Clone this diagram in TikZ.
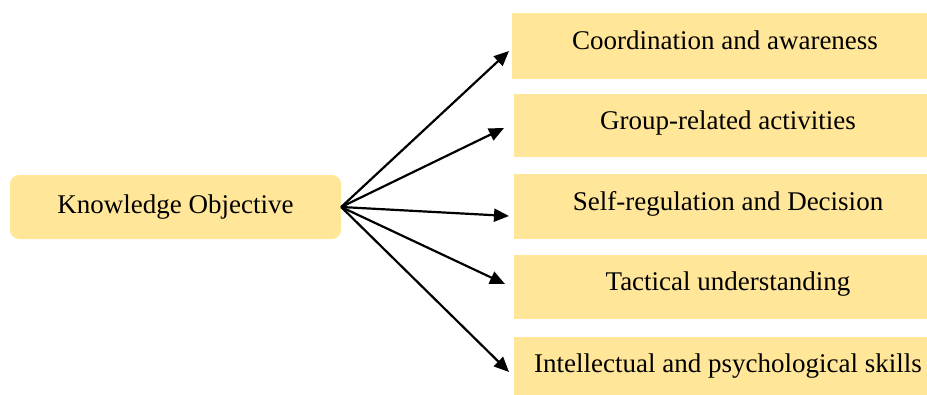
\documentclass[tikz,border=0pt]{standalone}
\usepackage{fontspec}
\setmainfont{Liberation Serif}
\usetikzlibrary{arrows.meta}
\definecolor{boxgold}{HTML}{FFE699}
\begin{document}
\begin{tikzpicture}[x=1bp,y=-1bp,
  goldbox/.style={fill=boxgold,draw=none,inner sep=0pt},
  lbl/.style={anchor=base,inner sep=0pt,font=\fontsize{27bp}{31bp}\selectfont},
  link/.style={line width=2.2bp,-{Triangle[length=15bp,width=13bp]}}]
\useasboundingbox (0,0) rectangle (927,394);
% source box
\node[goldbox,rounded corners=9bp,minimum width=331bp,minimum height=64bp] (ko) at (175.5,207) {};
\node[lbl] (kot) at (175.5,213) {Knowledge Objective};
% target boxes
\node[goldbox,minimum width=430bp,minimum height=66bp,anchor=north west] (c1) at (512,13) {};
\node[goldbox,minimum width=430bp,minimum height=63bp,anchor=north west] (c2) at (514,94) {};
\node[goldbox,minimum width=430bp,minimum height=65bp,anchor=north west] (c3) at (514,174) {};
\node[goldbox,minimum width=430bp,minimum height=64bp,anchor=north west] (c4) at (514,255) {};
\node[goldbox,minimum width=430bp,minimum height=66bp,anchor=north west] (c5) at (514,337) {};
\node[lbl] (c1t) at (725,49) {Coordination and awareness};
\node[lbl] (c2t) at (728,129) {Group-related activities};
\node[lbl] (c3t) at (728,210) {Self-regulation and Decision};
\node[lbl] (c4t) at (728,290) {Tactical understanding};
\node[lbl] (c5t) at (728,372) {Intellectual and psychological skills};
% arrow tips just short of each target box
\coordinate (e1) at (509,51);
\coordinate (e2) at (504,128);
\coordinate (e3) at (509,216);
\coordinate (e4) at (505,284);
\coordinate (e5) at (509,372);
\foreach \i in {1,...,5} \draw[link] (ko.east) -- (e\i);
\end{tikzpicture}
\end{document}
